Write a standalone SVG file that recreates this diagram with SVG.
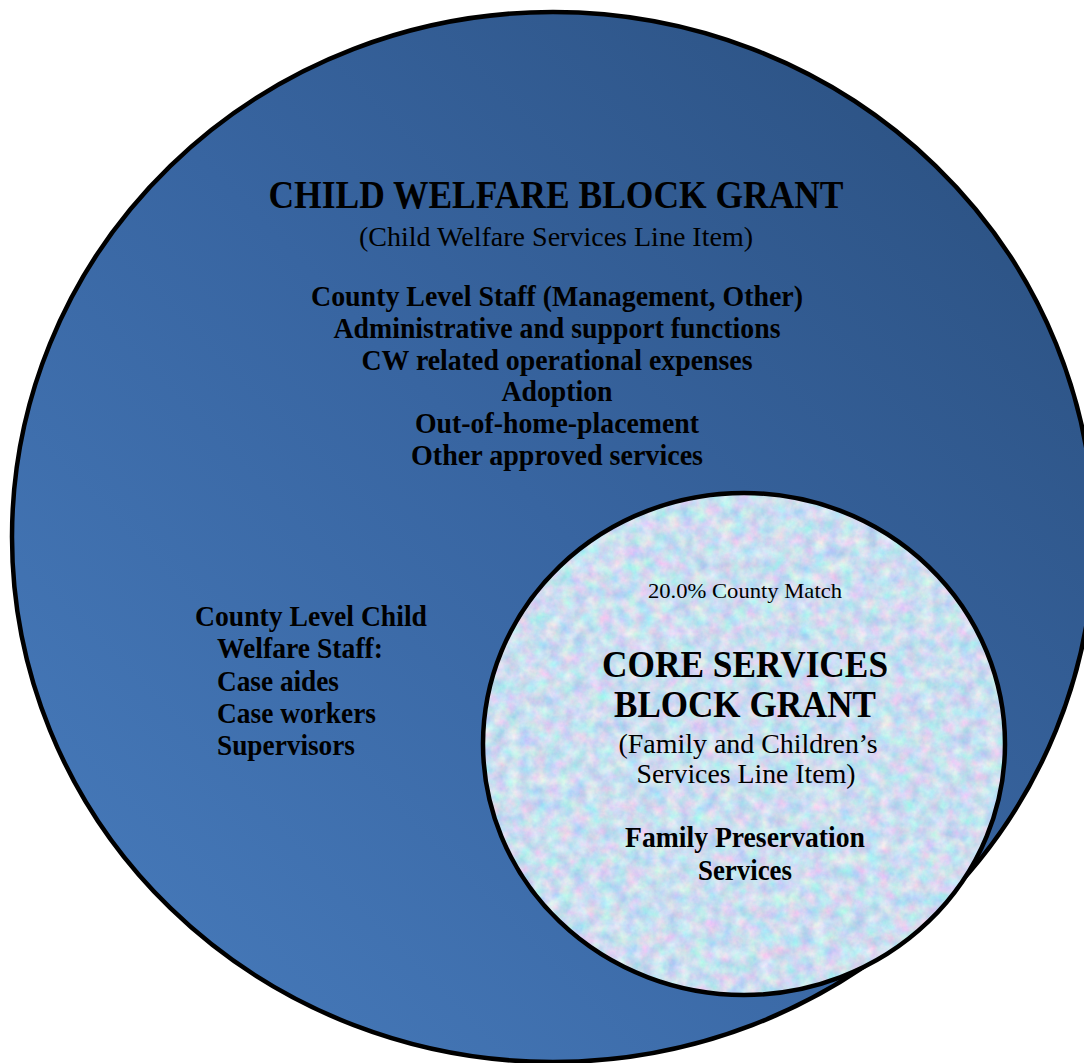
<svg xmlns="http://www.w3.org/2000/svg" width="1084" height="1063" viewBox="0 0 1084 1063">
  <defs>
    <!-- deep blue sweep for the outer grant -->
    <linearGradient id="blueFill" gradientUnits="userSpaceOnUse" x1="1000" y1="120" x2="140" y2="960">
      <stop offset="0" stop-color="#2C5283"/>
      <stop offset="0.5" stop-color="#3865A1"/>
      <stop offset="1" stop-color="#4578B8"/>
    </linearGradient>
    <!-- mottled pastel paper texture for the inner grant -->
    <filter id="paper" x="0" y="0" width="1" height="1" color-interpolation-filters="sRGB">
      <feTurbulence type="fractalNoise" baseFrequency="0.075" numOctaves="4" seed="7" result="noise"/>
      <feColorMatrix in="noise" type="matrix" values="0.45 0 0 0 0.57  0 0.28 0 0 0.73  0 0 0.12 0 0.88  0 0 0 0 1" result="tint"/>
      <feComposite in="tint" in2="SourceGraphic" operator="in"/>
    </filter>
  </defs>
  <style>
    .outline { fill: none; stroke: #000; stroke-width: 4.5; }
    text { font-family: "Liberation Serif", "Times New Roman", serif; fill: #000; }
    .c { text-anchor: middle; }
    .title { font-size: 39px; font-weight: bold; }
    .sub { font-size: 27px; }
    .item { font-size: 28.5px; font-weight: bold; }
    .core { font-size: 37px; font-weight: bold; }
    .small { font-size: 21px; }
  </style>

  <rect width="1084" height="1063" fill="#fff"/>

  <!-- Child Welfare Block Grant -->
  <g id="child-welfare-block-grant">
    <ellipse cx="553" cy="537" rx="541" ry="525" fill="url(#blueFill)"/>
    <ellipse class="outline" cx="553" cy="537" rx="541" ry="525"/>
    <text class="title c" x="556" y="208" textLength="575" lengthAdjust="spacingAndGlyphs">CHILD WELFARE BLOCK GRANT</text>
    <text class="sub c" x="556" y="246" textLength="394" lengthAdjust="spacingAndGlyphs">(Child Welfare Services Line Item)</text>
    <text class="item c" x="557" y="306" textLength="492" lengthAdjust="spacingAndGlyphs">County Level Staff (Management, Other)</text>
    <text class="item c" x="557" y="338" textLength="447" lengthAdjust="spacingAndGlyphs">Administrative and support functions</text>
    <text class="item c" x="557" y="370" textLength="391" lengthAdjust="spacingAndGlyphs">CW related operational expenses</text>
    <text class="item c" x="557" y="401" textLength="111" lengthAdjust="spacingAndGlyphs">Adoption</text>
    <text class="item c" x="557" y="433" textLength="284" lengthAdjust="spacingAndGlyphs">Out-of-home-placement</text>
    <text class="item c" x="557" y="465" textLength="292" lengthAdjust="spacingAndGlyphs">Other approved services</text>
  </g>

  <!-- County level staff list -->
  <g id="county-staff">
    <text class="item" x="195" y="626" textLength="232" lengthAdjust="spacingAndGlyphs">County Level Child</text>
    <text class="item" x="217" y="658" textLength="166" lengthAdjust="spacingAndGlyphs">Welfare Staff:</text>
    <text class="item" x="217" y="691" textLength="122" lengthAdjust="spacingAndGlyphs">Case aides</text>
    <text class="item" x="217" y="723" textLength="159" lengthAdjust="spacingAndGlyphs">Case workers</text>
    <text class="item" x="217" y="755" textLength="138" lengthAdjust="spacingAndGlyphs">Supervisors</text>
  </g>

  <!-- Core Services Block Grant -->
  <g id="core-services-block-grant">
    <ellipse cx="744" cy="744" rx="261" ry="251" fill="#CCDDF2"/>
    <ellipse cx="744" cy="744" rx="261" ry="251" fill="#fff" filter="url(#paper)"/>
    <ellipse class="outline" cx="744" cy="744" rx="261" ry="251"/>
    <text class="small c" x="745" y="598" textLength="194" lengthAdjust="spacingAndGlyphs">20.0% County Match</text>
    <text class="core c" x="745" y="677" textLength="286" lengthAdjust="spacingAndGlyphs">CORE SERVICES</text>
    <text class="core c" x="745" y="717" textLength="262" lengthAdjust="spacingAndGlyphs">BLOCK GRANT</text>
    <text class="sub c" x="748" y="753" textLength="259" lengthAdjust="spacingAndGlyphs">(Family and Children’s</text>
    <text class="sub c" x="746" y="783" textLength="219" lengthAdjust="spacingAndGlyphs">Services Line Item)</text>
    <text class="item c" x="745" y="847" textLength="240" lengthAdjust="spacingAndGlyphs">Family Preservation</text>
    <text class="item c" x="745" y="880" textLength="94" lengthAdjust="spacingAndGlyphs">Services</text>
  </g>

  <g id="connectors"/>
</svg>
